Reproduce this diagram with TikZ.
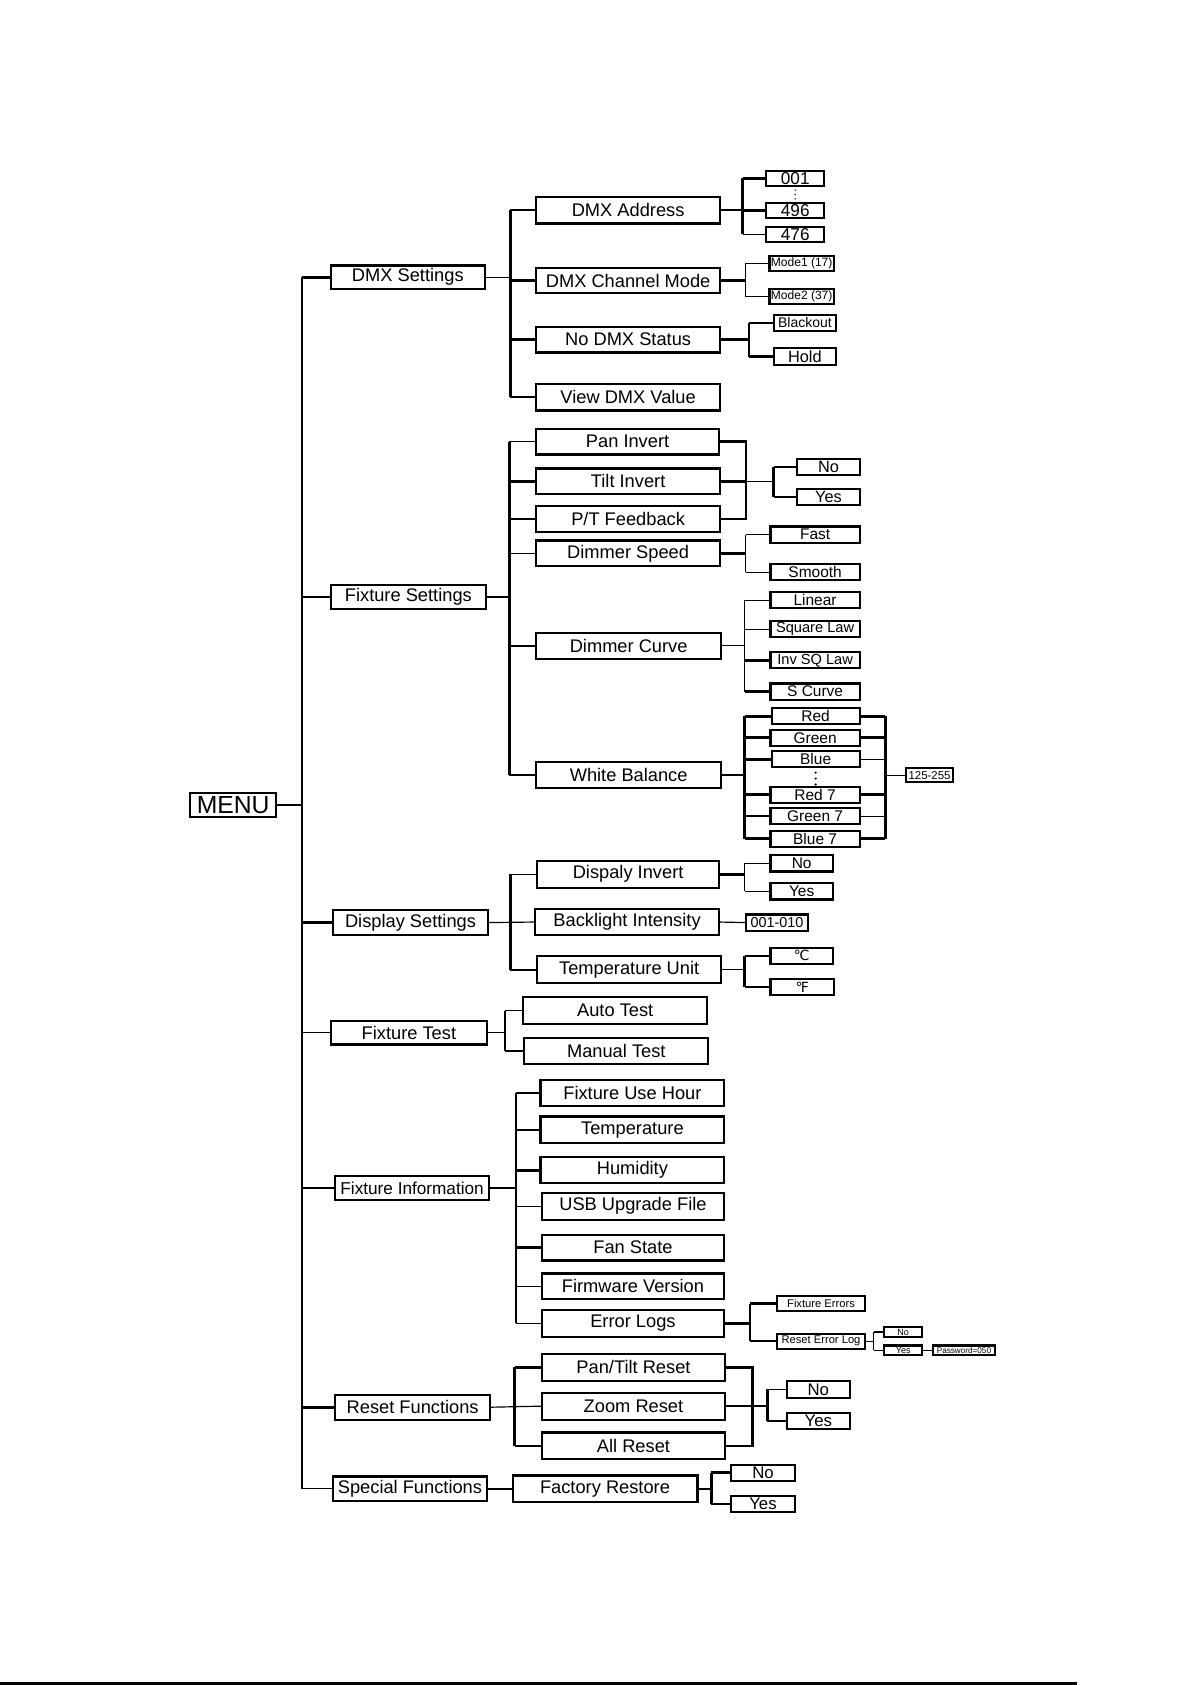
\documentclass[tikz,border=0pt]{standalone}
\usepackage{fontspec}
\setmainfont{Liberation Sans}
\newfontfamily\dvsans{DejaVu Sans}
\newcommand\mbx[7]{\node[bx,#6,minimum width={(#3-#2)*0.5pt},minimum height={(#5-#4)*0.5pt}] (#1) at ({(#2+#3)/2},{(#4+#5)/2}) {#7};}
\begin{document}
\begin{tikzpicture}[x=0.5pt,y=-0.5pt,
  bx/.style={draw,line width=1pt,inner sep=0pt,outer sep=0pt,align=center,font=\fontsize{8.5}{9}\selectfont},
  fs/.style={font=\fontsize{7.2}{8}\selectfont},
  fxs/.style={font=\fontsize{5.6}{6}\selectfont},
  ft/.style={font=\fontsize{4.2}{5}\selectfont},
  thk/.style={line width=1.2pt},
  thn/.style={line width=0.55pt}]
\useasboundingbox (0,0) rectangle (1109,1568);
% ---------- level 1
\mbx{menu}{177}{257}{738}{760}{font=\fontsize{11.5}{12}\selectfont}{MENU}
\mbx{dmxs}{308}{451}{247}{269}{}{DMX Settings}
\mbx{fixs}{308}{452}{544}{567}{}{Fixture Settings}
\mbx{disps}{310}{454}{847}{870}{}{Display Settings}
\mbx{ftest}{308}{453}{950}{972}{}{Fixture Test}
\mbx{finfo}{312}{455}{1094}{1117}{font=\fontsize{8}{9}\selectfont}{Fixture Information}
\mbx{resetf}{312}{456}{1298}{1321}{}{Reset Functions}
\mbx{specf}{310}{453}{1374}{1397}{}{Special Functions}
\coordinate (s0) at (281,0);
\draw[thk] (menu.east) -- (menu.east -| s0);
\draw[thk] (s0 |- dmxs.west) -- (s0 |- specf.west);
\foreach \n in {dmxs,disps,finfo,resetf} \draw[thk] (s0 |- \n.west) -- (\n.west);
\foreach \n in {fixs,ftest,specf} \draw[thn] (s0 |- \n.west) -- (\n.west);
% ---------- DMX settings
\mbx{dmxa}{499}{670}{183}{208}{}{DMX Address}
\mbx{dmxc}{499}{670}{249}{273}{}{DMX Channel Mode}
\mbx{nodmx}{499}{670}{304}{328}{}{No DMX Status}
\mbx{viewdmx}{499}{670}{357}{382}{}{View DMX Value}
\coordinate (s1) at (475,0);
\draw[thn] (dmxs.east) -- (dmxs.east -| s1);
\draw[thk] (s1 |- dmxa.west) -- (s1 |- viewdmx.west);
\foreach \n in {dmxa,dmxc,nodmx} \draw[thk] (s1 |- \n.west) -- (\n.west);
\draw[thn] (s1 |- viewdmx.west) -- (viewdmx.west);
% DMX address values
\mbx{a001}{713}{767}{159}{173}{font=\fontsize{8}{9}\selectfont}{001}
\mbx{a496}{713}{767}{189}{203}{font=\fontsize{8}{9}\selectfont}{496}
\mbx{a476}{713}{767}{211}{225}{font=\fontsize{8}{9}\selectfont}{476}
\coordinate (s2) at (691,0);
\draw[thk] (dmxa.east) -- (dmxa.east -| s2);
\draw[thk] (s2 |- a001.west) -- (s2 |- a476.west);
\draw[thk] (s2 |- a001.west) -- (a001.west);
\draw[thk] (s2 |- a496.west) -- (a496.west);
\draw[thn] (s2 |- a476.west) -- (a476.west);
\foreach \yy in {177,181,185} \fill (740,\yy) circle (0.7);
% channel mode
\mbx{mode1}{716}{776}{238}{252}{fxs}{Mode1 (17)}
\mbx{mode2}{716}{776}{269}{283}{fxs}{Mode2 (37)}
\coordinate (s3) at (694,0);
\draw[thk] (dmxc.east) -- (dmxc.east -| s3);
\draw[thn] (s3 |- mode1.west) -- (s3 |- mode2.west);
\foreach \n in {mode1,mode2} \draw[thn] (s3 |- \n.west) -- (\n.west);
% no dmx status
\mbx{blk}{720}{778}{293}{308}{font=\fontsize{6.5}{7}\selectfont}{Blackout}
\mbx{hold}{720}{778}{324}{340}{font=\fontsize{7.6}{8}\selectfont}{Hold}
\coordinate (s4) at (697,0);
\draw[thk] (nodmx.east) -- (nodmx.east -| s4);
\draw[thn] (s4 |- blk.west) -- (s4 |- hold.west);
\draw[thn] (s4 |- blk.west) -- (blk.west);
\draw[thk] (s4 |- hold.west) -- (hold.west);
% ---------- Fixture settings
\mbx{pan}{499}{669}{399}{423}{}{Pan Invert}
\mbx{tilt}{499}{670}{436}{460}{}{Tilt Invert}
\mbx{ptfb}{499}{670}{471}{495}{}{P/T Feedback}
\mbx{dspeed}{499}{670}{503}{527}{}{Dimmer Speed}
\mbx{dcurve}{499}{671}{589}{613}{}{Dimmer Curve}
\mbx{wbal}{499}{671}{709}{733}{}{White Balance}
\coordinate (s5) at (474,0);
\draw[thn] (fixs.east) -- (fixs.east -| s5);
\draw[thk] (s5 |- pan.west) -- (s5 |- wbal.west);
\foreach \n in {tilt,dcurve,wbal} \draw[thk] (s5 |- \n.west) -- (\n.west);
\foreach \n in {pan,ptfb,dspeed} \draw[thn] (s5 |- \n.west) -- (\n.west);
% pan/tilt/feedback -> No/Yes
\mbx{pno}{742}{800}{427}{442}{font=\fontsize{7.6}{8}\selectfont}{No}
\mbx{pyes}{742}{800}{455}{470}{font=\fontsize{7.6}{8}\selectfont}{Yes}
\coordinate (j1) at (694,448);
\coordinate (s6) at (720,0);
\draw[thk] (pan.east) -- (pan.east -| j1) -- (ptfb.east -| j1) -- (ptfb.east);
\draw[thk] (tilt.east) -- (tilt.east -| j1);
\draw[thn] (j1) -- (j1 -| s6);
\draw[thk] (s6 |- pno.west) -- (s6 |- pyes.west);
\foreach \n in {pno,pyes} \draw[thk] (s6 |- \n.west) -- (\n.west);
% dimmer speed
\mbx{fast}{717}{800}{490}{505}{fs}{Fast}
\mbx{smooth}{717}{800}{525}{540}{fs}{Smooth}
\coordinate (s7) at (694,0);
\draw[thk] (dspeed.east) -- (dspeed.east -| s7);
\draw[thn] (s7 |- fast.west) -- (s7 |- smooth.west);
\foreach \n in {fast,smooth} \draw[thn] (s7 |- \n.west) -- (\n.west);
% dimmer curve
\mbx{lin}{717}{800}{551}{566}{fs}{Linear}
\mbx{sql}{717}{800}{578}{593}{font=\fontsize{6.8}{7}\selectfont}{Square Law}
\mbx{isql}{717}{800}{607}{622}{font=\fontsize{6.8}{7}\selectfont}{Inv SQ Law}
\mbx{scur}{717}{800}{636}{651}{fs}{S Curve}
\coordinate (s8) at (693,0);
\draw[thn] (dcurve.east) -- (dcurve.east -| s8);
\draw[thn] (s8 |- lin.west) -- (s8 |- scur.west);
\foreach \n in {lin,sql} \draw[thn] (s8 |- \n.west) -- (\n.west);
\foreach \n in {isql,scur} \draw[thk] (s8 |- \n.west) -- (\n.west);
% white balance
\mbx{red}{718}{800}{659}{674}{fs}{Red}
\mbx{green}{717}{800}{679}{694}{fs}{Green}
\mbx{blue}{718}{800}{699}{714}{fs}{Blue}
\mbx{redb}{717}{800}{732}{747}{fs}{Red 7}
\mbx{greenb}{717}{800}{752}{767}{fs}{Green 7}
\mbx{blueb}{717}{800}{773}{788}{fs}{Blue 7}
\mbx{rng}{843}{887}{715}{728}{font=\fontsize{5.3}{6}\selectfont}{125-255}
\coordinate (s9) at (693,0);
\coordinate (s10) at (824,0);
\draw[thk] (wbal.east) -- (wbal.east -| s9);
\draw[thk] (s9 |- red.west) -- (s9 |- blueb.west);
\foreach \n in {red,green,blue,redb,greenb,blueb} \draw[thk] (s9 |- \n.west) -- (\n.west);
\draw[thk] (s10 |- red.east) -- (s10 |- blueb.east);
\foreach \n in {red,green,redb,blueb} \draw[thk] (\n.east) -- (s10 |- \n.east);
\foreach \n in {blue,greenb} \draw[thn] (\n.east) -- (s10 |- \n.east);
\draw[thn] (s10 |- rng.west) -- (rng.west);
\foreach \yy in {719,724.5,730} \fill (759,\yy) circle (1.1);
% ---------- Display settings
\mbx{dinv}{500}{669}{801}{826}{}{Dispaly Invert}
\mbx{backl}{498}{669}{846}{870}{}{Backlight Intensity}
\mbx{tunit}{500}{671}{890}{915}{}{Temperature Unit}
\coordinate (s11) at (475,0);
\draw[thn] (disps.east) -- (backl.west);
\draw[thk] (s11 |- dinv.west) -- (s11 |- tunit.west);
\draw[thn] (s11 |- dinv.west) -- (dinv.west);
\draw[thk] (s11 |- tunit.west) -- (tunit.west);
\mbx{dno}{717}{775}{796}{811}{fs}{No}
\mbx{dyes}{717}{775}{822}{837}{fs}{Yes}
\coordinate (s12) at (693,0);
\draw[thk] (dinv.east) -- (dinv.east -| s12);
\draw[thn] (s12 |- dno.west) -- (s12 |- dyes.west);
\foreach \n in {dno,dyes} \draw[thn] (s12 |- \n.west) -- (\n.west);
\mbx{blv}{694}{752}{851}{866}{font=\fontsize{6.7}{7}\selectfont}{001-010}
\draw[thn] (backl.east) -- (blv.west);
\mbx{degc}{717}{775}{882}{897}{font=\dvsans\fontsize{6.5}{7}\selectfont}{℃}
\mbx{degf}{717}{776}{911}{926}{font=\dvsans\fontsize{6.5}{7}\selectfont}{℉}
\coordinate (s13) at (693,0);
\draw[thn] (tunit.east) -- (tunit.east -| s13);
\draw[thk] (s13 |- degc.west) -- (s13 |- degf.west);
\foreach \n in {degc,degf} \draw[thk] (s13 |- \n.west) -- (\n.west);
% ---------- Fixture test
\mbx{auto}{487}{658}{928}{953}{}{Auto Test}
\mbx{manual}{488}{659}{966}{990}{}{Manual Test}
\coordinate (s14) at (470,0);
\draw[thn] (ftest.east) -- (ftest.east -| s14);
\draw[thn] (s14 |- auto.west) -- (s14 |- manual.west);
\draw[thn] (s14 |- auto.west) -- (auto.west);
\draw[thk] (s14 |- manual.west) -- (manual.west);
% ---------- Fixture information
\mbx{fuh}{503}{674}{1005}{1029}{}{Fixture Use Hour}
\mbx{temp}{503}{674}{1039}{1064}{}{Temperature}
\mbx{hum}{503}{674}{1077}{1101}{}{Humidity}
\mbx{usb}{504}{674}{1110}{1135}{}{USB Upgrade File}
\mbx{fan}{504}{674}{1149}{1173}{}{Fan State}
\mbx{fw}{504}{674}{1185}{1209}{}{Firmware Version}
\mbx{err}{504}{674}{1219}{1244}{}{Error Logs}
\coordinate (s15) at (480,0);
\draw[thn] (finfo.east) -- (finfo.east -| s15);
\draw[thk] (s15 |- fuh.west) -- (s15 |- err.west);
\foreach \n in {fuh,temp,hum,fan} \draw[thk] (s15 |- \n.west) -- (\n.west);
\foreach \n in {usb,fw,err} \draw[thn] (s15 |- \n.west) -- (\n.west);
\mbx{ferr}{723}{805}{1206}{1220}{font=\fontsize{5.2}{6}\selectfont}{Fixture Errors}
\mbx{rerr}{723}{805}{1241}{1255}{font=\fontsize{5.2}{6}\selectfont}{Reset Error Log}
\coordinate (s16) at (698,0);
\draw[thk] (err.east) -- (err.east -| s16);
\draw[thk] (s16 |- ferr.west) -- (s16 |- rerr.west);
\foreach \n in {ferr,rerr} \draw[thk] (s16 |- \n.west) -- (\n.west);
\mbx{rno}{823}{858}{1235}{1244}{ft}{No}
\mbx{ryes}{823}{858}{1252}{1261}{ft}{Yes}
\mbx{pwd}{868}{926}{1252}{1261}{font=\fontsize{3.8}{4}\selectfont}{Password=050}
\coordinate (s17) at (813,0);
\draw[thn] (rerr.east) -- (rerr.east -| s17);
\draw[thn] (s17 |- rno.west) -- (s17 |- ryes.west);
\foreach \n in {rno,ryes} \draw[thn] (s17 |- \n.west) -- (\n.west);
\draw[thn] (ryes.east) -- (pwd.west);
% ---------- Reset functions
\mbx{ptr}{504}{675}{1260}{1285}{}{Pan/Tilt Reset}
\mbx{zr}{504}{675}{1296}{1321}{}{Zoom Reset}
\mbx{allr}{504}{675}{1333}{1358}{}{All Reset}
\coordinate (s18) at (479,0);
\draw[thn] (resetf.east) -- (zr.west);
\draw[thk] (s18 |- ptr.west) -- (s18 |- allr.west);
\draw[thk] (s18 |- ptr.west) -- (ptr.west);
\draw[thn] (s18 |- allr.west) -- (allr.west);
\mbx{rfno}{732}{791}{1285}{1301}{font=\fontsize{7.8}{8}\selectfont}{No}
\mbx{rfyes}{732}{791}{1315}{1330}{font=\fontsize{7.8}{8}\selectfont}{Yes}
\coordinate (j2) at (700,1309);
\coordinate (s19) at (714,0);
\draw[thk] (ptr.east) -- (ptr.east -| j2) -- (allr.east -| j2) -- (allr.east);
\draw[thk] (zr.east) -- (zr.east -| s19);
\draw[thk] (s19 |- rfno.west) -- (s19 |- rfyes.west);
\draw[thn] (s19 |- rfno.west) -- (rfno.west);
\draw[thk] (s19 |- rfyes.west) -- (rfyes.west);
% ---------- Special functions
\mbx{fr}{477}{649}{1373}{1398}{}{Factory Restore}
\draw[thk] (specf.east) -- (fr.west);
\mbx{sno}{680}{740}{1363}{1378}{font=\fontsize{7.8}{8}\selectfont}{No}
\mbx{syes}{680}{740}{1392}{1407}{font=\fontsize{7.8}{8}\selectfont}{Yes}
\coordinate (s20) at (662,0);
\draw[thk] (fr.east) -- (fr.east -| s20);
\draw[thk] (s20 |- sno.west) -- (s20 |- syes.west);
\foreach \n in {sno,syes} \draw[thk] (s20 |- \n.west) -- (\n.west);
% ---------- page rule
\draw[line width=1.4pt] (0,1567) -- (1002,1567);
\end{tikzpicture}
\end{document}
